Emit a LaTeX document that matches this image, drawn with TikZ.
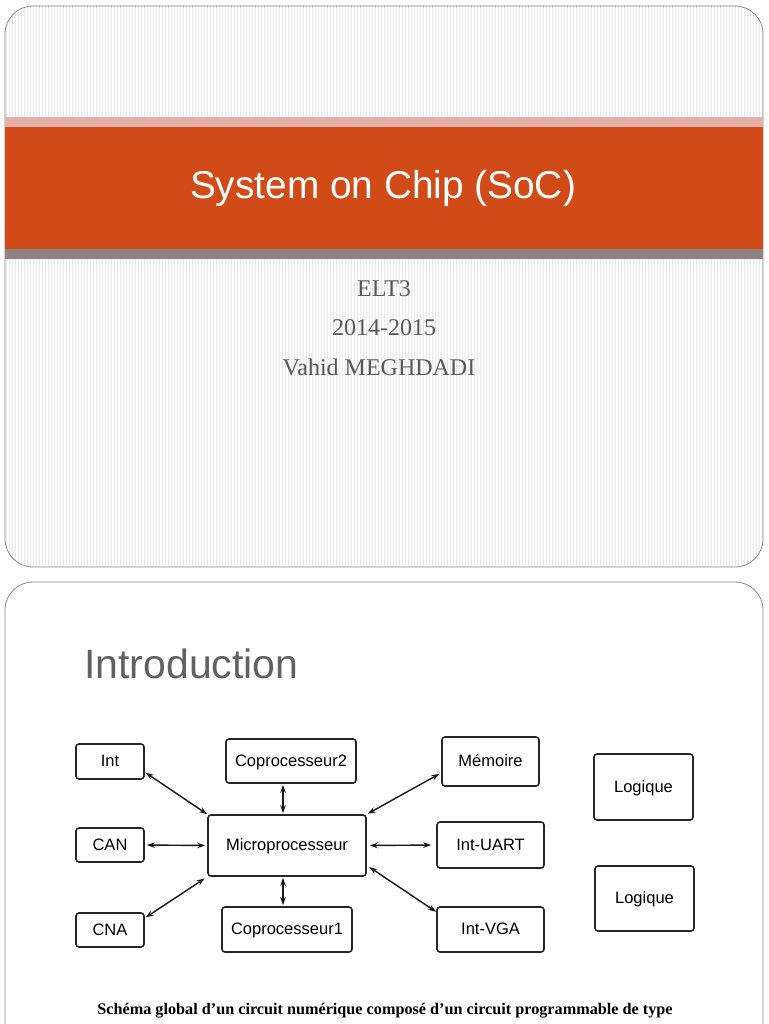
\documentclass[tikz,border=0pt]{standalone}
\usepackage{fontspec}
\setmainfont{Liberation Serif}
\setsansfont{Liberation Sans}
\usetikzlibrary{arrows.meta,calc}
\definecolor{bandorange}{HTML}{D14B18}
\definecolor{bandpink}{HTML}{E6AFA8}
\definecolor{bandgray}{HTML}{8F8484}
\definecolor{slideedge}{HTML}{8A8A8A}
\definecolor{stripe}{HTML}{E8E8E8}
\begin{document}
\begin{tikzpicture}[x=1pt,y=-1pt,
  box/.style={draw=black!85, line width=1.6pt, rounded corners=3pt, inner sep=0pt,
    text height=11.8pt, text depth=1pt,
    font=\sffamily\fontsize{16.5}{19}\selectfont, align=center},
  tip/.tip={Stealth[length=8pt,width=5.5pt]},
  biarrow/.style={tip-tip, line width=1.4pt, black!90},
  biarrowthick/.style={tip-tip, line width=2.2pt, black!90},
  slide/.style={draw=slideedge, line width=0.8pt, rounded corners=28pt}]
\useasboundingbox (0,0) rectangle (768,1024);
\fill[white] (0,0) rectangle (768,1024);
% ---------- slide 1 ----------
\begin{scope}
  \clip[rounded corners=28pt] (5,6) rectangle (763,567);
  \fill[white] (5,6) rectangle (763,567);
  \foreach \x in {6,9,...,762} \draw[stripe, line width=0.7pt] (\x,0) -- (\x,570);
\end{scope}
\draw[slide] (5,6) rectangle (763,567);
\fill[bandpink] (5,117) rectangle (763,127);
\fill[bandorange] (5,127) rectangle (763,249);
\fill[bandgray] (5,249) rectangle (763,259);
\node[font=\sffamily\fontsize{38.8}{44}\selectfont, text=white] (title) at (383,188) {System on Chip (SoC)};
\node[font=\fontsize{24}{28}\selectfont, text=black!65] (elt) at (384,289) {ELT3};
\node[font=\fontsize{24}{28}\selectfont, text=black!65] (year) at (384,328) {2014-2015};
\node[font=\fontsize{24}{28}\selectfont, text=black!65] (author) at (379,367) {Vahid MEGHDADI};
% ---------- slide 2 ----------
\begin{scope}
  \clip (0,0) rectangle (768,1024);
  \draw[slide, fill=white] (5,582) rectangle (763,1070);
\end{scope}
\node[anchor=base west, inner sep=0pt, font=\sffamily\fontsize{41}{48}\selectfont, text=black!62] (intro) at (84,678) {Introduction};
% boxes
\node[box, minimum width=68pt, minimum height=35pt] (int) at (110,761.5) {Int};
\node[box, minimum width=130pt, minimum height=44pt] (cop2) at (291,761) {Coprocesseur2};
\node[box, minimum width=158pt, minimum height=61pt] (micro) at (287,845.5) {Microprocesseur};
\node[box, minimum width=68pt, minimum height=34pt] (can) at (110,845) {CAN};
\node[box, minimum width=68pt, minimum height=34pt] (cna) at (110,930) {CNA};
\node[box, minimum width=130pt, minimum height=45pt] (cop1) at (287,929.5) {Coprocesseur1};
\node[box, minimum width=97pt, minimum height=49pt] (mem) at (490.5,761.5) {Mémoire};
\node[box, minimum width=107pt, minimum height=46pt] (uart) at (490.5,845) {Int-UART};
\node[box, minimum width=107pt, minimum height=45pt] (vga) at (490.5,929.5) {Int-VGA};
\node[box, minimum width=99pt, minimum height=66pt] (log1) at (643.5,787) {Logique};
\node[box, minimum width=99pt, minimum height=65pt] (log2) at (644.5,898.5) {Logique};
% connectors
\draw[biarrow, shorten <=1pt] (int.-17) -- (micro.north west);
\draw[biarrow, shorten <=2pt, shorten >=2pt] (can.east) -- (micro.west);
\draw[biarrow, shorten <=1pt, shorten >=3pt] (cna.19) -- (micro.south west);
\draw[biarrow, shorten <=2pt, shorten >=1pt] (mem.193) -- (micro.north east);
\draw[biarrow, shorten <=3pt, shorten >=5pt] (micro.east) -- (uart.west);
\draw[biarrow, shorten <=3pt] (micro.-14) -- (vga.162);
\draw[biarrowthick, shorten <=1pt, shorten >=1pt] ([xshift=-4pt]micro.north) -- ([xshift=-4pt]micro.north |- cop2.south);
\draw[biarrowthick, shorten <=1pt, shorten >=1pt] ([xshift=-4pt]micro.south) -- ([xshift=-4pt]micro.south |- cop1.north);
% caption
\node[anchor=base, inner sep=0pt, font=\bfseries\fontsize{16.2}{19}\selectfont] (caption) at (385,1014) {Schéma global d’un circuit numérique composé d’un circuit programmable de type};
\end{tikzpicture}
\end{document}
